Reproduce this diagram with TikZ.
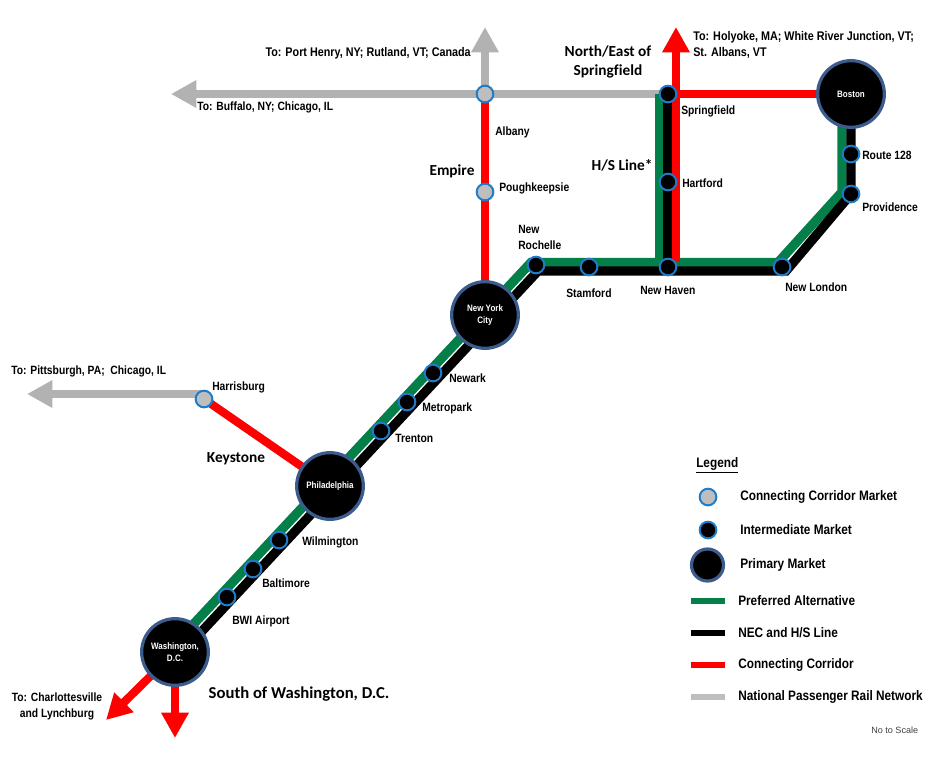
\documentclass[tikz,border=0pt]{standalone}
\usepackage{fontspec}
\usepackage{xcolor}
\usetikzlibrary{positioning,arrows.meta,backgrounds}
\setmainfont{Liberation Sans}
\newfontfamily\labfont[FakeStretch=0.86]{Liberation Sans Bold}
\newfontfamily\capfont[Ligatures=NoCommon]{Carlito Bold}
\definecolor{prefgreen}{HTML}{047F4A}
\definecolor{railgrey}{HTML}{B2B2B2}
\definecolor{ringblue}{HTML}{1F7CC8}
\definecolor{primring}{HTML}{3B5C8C}
\begin{document}
\begin{tikzpicture}[
  x=0.75pt, y=-0.75pt,
  lab/.style={inner sep=0pt, anchor=west, align=left, font=\labfont\fontsize{9}{12}\selectfont},
  clab/.style={lab, anchor=center, align=center},
  dest/.style={lab, font=\labfont\fontsize{9.4}{12}\selectfont},
  legt/.style={lab, font=\labfont\fontsize{10.3}{12}\selectfont},
  head/.style={inner sep=0pt, align=center, font=\capfont\fontsize{11.5}{14.5}\selectfont},
  inner/.style={inner sep=0pt, text=white, align=center, font=\labfont\fontsize{7}{9}\selectfont},
  prim/.style={circle, draw=primring, line width=2.4pt, fill=black, minimum size=50pt, inner sep=0pt},
  inter/.style={circle, draw=ringblue, line width=1.5pt, fill=black, minimum size=12.5pt, inner sep=0pt},
  conn/.style={inter, fill=railgrey!85!white},
  bar/.style={rectangle, minimum width=25.5pt, minimum height=5.2pt, inner sep=0pt},
  track/.style={line width=7pt, line join=miter},
  pref/.style={track, prefgreen},
  nec/.style={track, black},
  corr/.style={line width=6.2pt, red},
  rail/.style={line width=6.2pt, railgrey},
  tip/.style={-{Triangle[length=19pt,width=19.5pt]}}
]
\useasboundingbox (0,0) rectangle (932,765);
% primary markets
\node[prim] (bos) at (851,94) {};
\node[prim] (nyc) at (485,315) {};
\node[prim] (phl) at (330,486) {};
\node[prim] (wdc) at (175,652) {};
\node[inner] (bostxt) at (bos) {Boston};
\node[inner] (nyctxt) at (nyc) {New York\\City};
\node[inner] (phltxt) at (phl) {Philadelphia};
\node[inner] (wdctxt) at (wdc) {Washington,\\D.C.};
% intermediate markets
\node[inter] (spg) at (668,94) {};
\node[inter] (hfd) at (668,182) {};
\node[inter] (r128) at (851,154) {};
\node[inter] (pvd) at (851,194) {};
\node[inter] (nlo) at (782,267) {};
\node[inter] (nhv) at (668,267) {};
\node[inter] (stm) at (589,267) {};
\node[inter] (nro) at (536,265) {};
\node[inter] (nwk) at (433,373) {};
\node[inter] (mpk) at (407,402) {};
\node[inter] (trn) at (381,431) {};
\node[inter] (wil) at (279,540) {};
\node[inter] (bal) at (253,569) {};
\node[inter] (bwi) at (227,597) {};
% connecting corridor markets
\node[conn] (alb) at (485,94) {};
\node[conn] (pok) at (485,192) {};
\node[conn] (har) at (204,399) {};
% arrow ends
\coordinate (buf) at (171,94);
\coordinate (can) at (485,27);
\coordinate (vt) at (676,27);
\coordinate (pit) at (27,394);
\coordinate (cho) at (106,720);
\coordinate (sou) at (175,738);
% lines
\begin{scope}[on background layer]
\draw[rail,tip] (spg.center) -- (buf);
\draw[rail,tip] (alb.center) -- (can);
\draw[rail,tip] ([yshift=3.75pt]har.center) -- (pit);
\draw[pref] ([shift={(-4,-3.8)}]wdc.center) -- ([shift={(-5,-2.5)}]nro.center) -- ([shift={(-4,-4.5)}]nlo.center) -- ([shift={(-9,-2)}]pvd.center) -- ([xshift=-6.75pt]bos.center);
\draw[pref] ([shift={(-8,-4.5)}]nhv.center) -- ([xshift=-6pt]spg.center);
\draw[nec] ([shift={(4,3.8)}]wdc.center) -- ([shift={(2,6)}]nro.center) -- ([shift={(4,4)}]nlo.center) -- (pvd.center) -- (bos.center);
\draw[nec] (nhv.center) -- (spg.center);
\draw[corr] (alb.center) -- (nyc.center);
\draw[corr] (spg.center) -- (bos.center);
\draw[corr,tip] ([shift={(8,-5)}]nhv.center) -- (vt);
\draw[corr] (har.center) -- (phl.center);
\draw[corr,tip] (wdc.center) -- (cho);
\draw[corr,tip] (wdc.center) -- (sou);
\end{scope}
% market labels
\node[lab] (l1) at (495,132) {Albany};
\node[lab] (l2) at (499,188) {Poughkeepsie};
\node[lab] (l3) at (681,111) {Springfield};
\node[lab] (l4) at (682,183) {Hartford};
\node[lab] (l5) at (862,155) {Route 128};
\node[lab] (l6) at (862,207) {Providence};
\node[lab] (l7) at (518,237.5) {New\\Rochelle};
\node[lab] (l8) at (566,293) {Stamford};
\node[lab] (l9) at (640,290) {New Haven};
\node[lab] (l10) at (785,287) {New London};
\node[lab] (l11) at (449,378) {Newark};
\node[lab] (l12) at (422,408) {Metropark};
\node[lab] (l13) at (395,438) {Trenton};
\node[lab] (l14) at (212,387) {Harrisburg};
\node[lab] (l15) at (302,542) {Wilmington};
\node[lab] (l16) at (262,583) {Baltimore};
\node[lab] (l17) at (232,621) {BWI Airport};
% destinations
\node[dest,anchor=east] (to1) at (471,53) {To: Port Henry, NY; Rutland, VT; Canada};
\node[lab] (to2) at (197,107) {To: Buffalo, NY; Chicago, IL};
\node[dest] (to3) at (693,45) {To: Holyoke, MA; White River Junction, VT;\\St. Albans, VT};
\node[lab] (to4) at (11,371) {To: Pittsburgh, PA;\ \ Chicago, IL};
\node[clab] (to5) at (57,706) {To: Charlottesville\\and Lynchburg};
% corridor names
\node[head] (c1) at (452,171) {Empire};
\node[head] (c2) at (608,62) {North/East of\\Springfield};
\node[head] (c3) at (622,165) {H/S Line*};
\node[head] (c4) at (236,459) {Keystone};
\node[head,font=\capfont\fontsize{12.5}{15}\selectfont] (c5) at (299,694) {South of Washington, D.C.};
% legend
\node[legt] (leg) at (696,465) {\underline{Legend}};
\node[conn] (k1) at (708,497) {};
\node[inter] (k2) at (708,530) {};
\node[prim,minimum size=24pt] (k3) at (707.5,565) {};
\node[bar,fill=prefgreen] (k4) at (708,601) {};
\node[bar,fill=black] (k5) at (708,633) {};
\node[bar,fill=red] (k6) at (708,665) {};
\node[bar,fill=railgrey!85!white] (k7) at (708,697) {};
\node[legt] (t1) at (740,497) {Connecting Corridor Market};
\node[legt] (t2) at (740,530) {Intermediate Market};
\node[legt] (t3) at (740,565) {Primary Market};
\node[legt] (t4) at (738,601) {Preferred Alternative};
\node[legt] (t5) at (738,633) {NEC and H/S Line};
\node[legt] (t6) at (738,665) {Connecting Corridor};
\node[legt] (t7) at (738,697) {National Passenger Rail Network};
\node[inner sep=0pt, anchor=west, text=black!75, font=\fontsize{6.8}{9}\selectfont] (nts) at (871,730) {No to Scale};
\end{tikzpicture}
\end{document}
